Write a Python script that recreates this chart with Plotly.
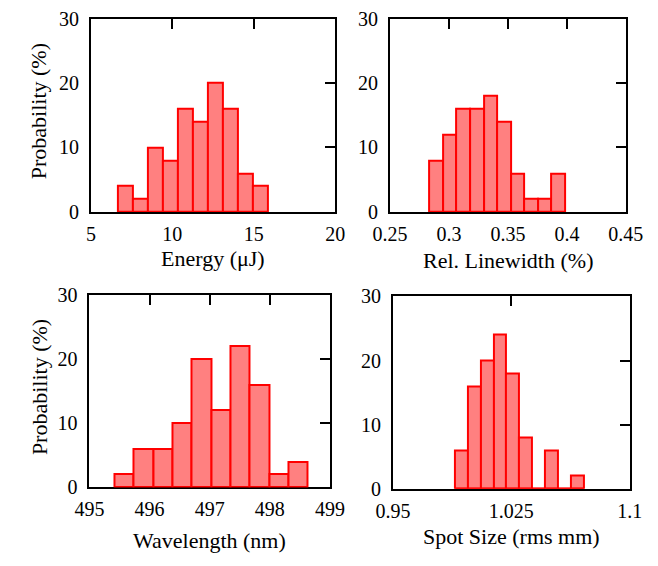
import numpy as np
import plotly.graph_objects as go

# ---- histogram data (percent of shots per bin) ----
energy_lo, energy_hi = 6.67, 15.87
energy_pct = [4, 2, 10, 8, 16, 14, 20, 16, 6, 4]

linewidth_lo, linewidth_hi = 0.2833, 0.3985
linewidth_pct = [8, 12, 16, 16, 18, 14, 6, 2, 2, 6]

wavelength_lo, wavelength_hi = 495.415, 498.633
wavelength_pct = [2, 6, 6, 10, 20, 12, 22, 16, 2, 4]

spot_lo, spot_hi = 0.9892, 1.0710
spot_pct = [6, 16, 20, 24, 18, 8, 0, 6, 0, 2]

# ---- axis settings ----
x_titles = ["Energy (\u03bcJ)", "Rel. Linewidth (%)", "Wavelength (nm)", "Spot Size (rms mm)"]
x_ranges = [[5, 20], [0.25, 0.45], [495, 499], [0.95, 1.1]]
x_tickvals = [[5, 10, 15, 20], [0.25, 0.3, 0.35, 0.4, 0.45],
              [495, 496, 497, 498, 499], [0.95, 1.025, 1.1]]
x_ticktext = [["5", "10", "15", "20"], ["0.25", "0.3", "0.35", "0.4", "0.45"],
              ["495", "496", "497", "498", "499"], ["0.95", "1.025", "1.1"]]
y_range = [0, 30]
y_tickvals = [0, 10, 20, 30]
y_title = "Probability (%)"

W, H = 658, 566
# panel boxes in pixels: left, right, top, bottom
boxes = [(77, 335, 8, 209), (393, 642, 8, 209),
         (75.5, 329.5, 295.5, 495.5), (396, 646, 297, 497)]
# distance from the bottom axis to the centre of each x title, pixels
title_gap = [48, 51, 55, 50]

FONT = "Liberation Serif"
FILL = "#ff8080"
EDGE = "#ff0000"

panels = [(energy_lo, energy_hi, energy_pct),
          (linewidth_lo, linewidth_hi, linewidth_pct),
          (wavelength_lo, wavelength_hi, wavelength_pct),
          (spot_lo, spot_hi, spot_pct)]

fig = go.Figure()
layout = {}
annotations = []

for i, ((lo, hi, pct), box) in enumerate(zip(panels, boxes)):
    n = i + 1
    m = i + 5
    edges = np.linspace(lo, hi, len(pct) + 1)
    centers = 0.5 * (edges[:-1] + edges[1:])
    width = edges[1] - edges[0]
    xa, ya = f"x{n}", f"y{n}"
    xo, yo = f"x{m}", f"y{m}"

    fig.add_trace(go.Bar(
        x=centers, y=pct, width=width, xaxis=xa, yaxis=ya,
        marker=dict(color=FILL, line=dict(color=EDGE, width=2)),
        showlegend=False, hoverinfo="x+y",
    ))
    # red base line under the bins (visible where a bin is empty)
    fig.add_trace(go.Scatter(
        x=[edges[0], edges[-1]], y=[0, 0], xaxis=xo, yaxis=yo,
        mode="lines", line=dict(color=EDGE, width=2),
        showlegend=False, hoverinfo="skip",
    ))

    l, r, t, b = box
    xdom = [l / W, r / W]
    ydom = [1 - b / H, 1 - t / H]

    layout[f"xaxis{n}"] = dict(
        domain=xdom, anchor=ya, range=x_ranges[i],
        tickvals=x_tickvals[i], ticktext=x_ticktext[i],
        ticks="", showline=True, linecolor="black", linewidth=2,
        showgrid=False, zeroline=False, layer="below traces",
        tickfont=dict(family=FONT, size=20, color="black"),
        ticklabelstandoff=3,
    )
    layout[f"yaxis{n}"] = dict(
        domain=ydom, anchor=xa, range=y_range, tickvals=y_tickvals,
        ticks="", showline=True, linecolor="black", linewidth=2,
        showgrid=False, zeroline=False, layer="below traces",
        tickfont=dict(family=FONT, size=20, color="black"),
        ticklabelstandoff=6,
    )
    # top and right frame carrying inward ticks
    layout[f"xaxis{m}"] = dict(
        overlaying=xa, anchor=ya, side="top", range=x_ranges[i],
        tickvals=x_tickvals[i][1:-1], ticks="inside", ticklen=10, tickwidth=2,
        tickcolor="black", showticklabels=False, showline=True,
        linecolor="black", linewidth=2, showgrid=False, zeroline=False,
    )
    layout[f"yaxis{m}"] = dict(
        overlaying=ya, anchor=xa, side="right", range=y_range,
        tickvals=y_tickvals[1:-1], ticks="inside", ticklen=10, tickwidth=2,
        tickcolor="black", showticklabels=False, showline=True,
        linecolor="black", linewidth=2, showgrid=False, zeroline=False,
    )

    annotations.append(dict(
        text=x_titles[i], xref="paper", yref="paper",
        x=(l + r) / 2 / W, y=1 - (b + title_gap[i]) / H,
        xanchor="center", yanchor="middle", showarrow=False,
        font=dict(family=FONT, size=22, color="black"),
    ))
    if i % 2 == 0:
        annotations.append(dict(
            text=y_title, xref="paper", yref="paper",
            x=22 / W, y=1 - ((t + b) / 2 - 4) / H, textangle=-90,
            xanchor="center", yanchor="middle", showarrow=False,
            font=dict(family=FONT, size=22, color="black"),
        ))

fig.update_layout(
    width=W, height=H, margin=dict(l=0, r=0, t=0, b=0),
    paper_bgcolor="white", plot_bgcolor="white",
    bargap=0, annotations=annotations,
    font=dict(family=FONT, color="black"),
    **layout,
)

fig.write_html("out.html")
